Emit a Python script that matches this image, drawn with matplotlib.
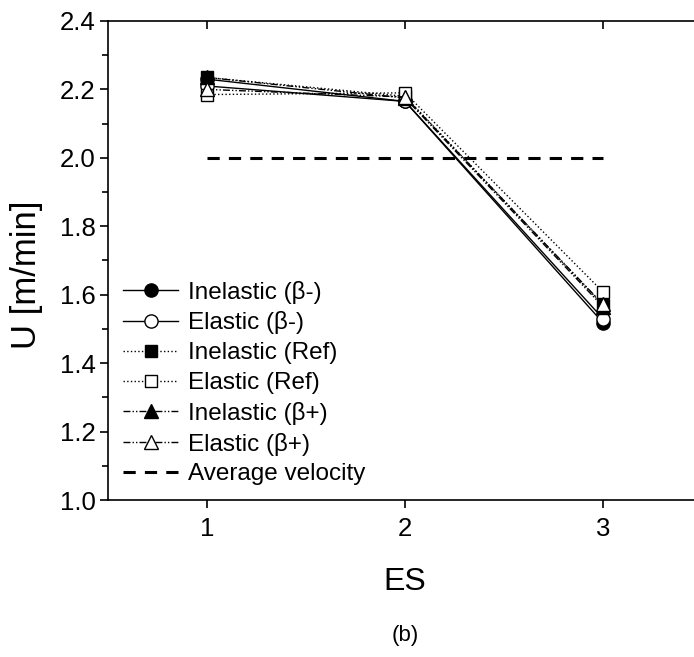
import numpy as np
import matplotlib.pyplot as plt
from matplotlib.ticker import MultipleLocator

plt.rcParams['font.family'] = ['Liberation Sans', 'DejaVu Sans']

# data
es = [1, 2, 3]
inel_bm = [2.230, 2.165, 1.518]
el_bm = [2.210, 2.165, 1.530]
inel_ref = [2.235, 2.180, 1.570]
el_ref = [2.185, 2.190, 1.608]
inel_bp = [2.235, 2.175, 1.565]
el_bp = [2.200, 2.178, 1.572]
avg_x = [1, 3]
avg_u = [2.0, 2.0]

fig = plt.figure(figsize=(6.94, 6.57), dpi=100)
ax = fig.add_axes([108 / 694, 157 / 657, 594 / 694, 479 / 657])

ms = 9.5
dd = (0, (5, 1.5, 1, 1.5, 1, 1.5))
ax.plot(es, inel_bm, '-', color='black', lw=1, marker='o', ms=ms, mfc='black', label='Inelastic (β-)')
ax.plot(es, el_bm, '-', color='black', lw=1, marker='o', ms=ms, mfc='white', label='Elastic (β-)')
ax.plot(es, inel_ref, ':', color='black', lw=1, marker='s', ms=ms - 1.5, mfc='black', label='Inelastic (Ref)')
ax.plot(es, el_ref, ':', color='black', lw=1, marker='s', ms=ms - 1.5, mfc='white', label='Elastic (Ref)')
ax.plot(es, inel_bp, color='black', lw=1, ls=dd, marker='^', ms=ms, mfc='black', label='Inelastic (β+)')
ax.plot(es, el_bp, color='black', lw=1, ls=dd, marker='^', ms=ms, mfc='white', label='Elastic (β+)')
ax.plot(avg_x, avg_u, color='black', lw=2.2, ls=(0, (4, 3)), label='Average velocity')

ax.set_xlim(0.5, 3.5)
ax.set_ylim(1.0, 2.4)
ax.set_xticks([1, 2, 3])
ax.yaxis.set_major_locator(MultipleLocator(0.2))
ax.yaxis.set_minor_locator(MultipleLocator(0.1))
ax.yaxis.set_major_formatter(plt.FuncFormatter(lambda v, p: f'{v:.1f}'))

ax.spines['right'].set_visible(False)
for s in ['left', 'bottom', 'top']:
    ax.spines[s].set_linewidth(1.2)

ax.tick_params(axis='both', which='major', labelsize=18.5, length=6, width=1.2, direction='out')
ax.tick_params(axis='y', which='major', pad=3)
ax.tick_params(axis='x', which='major', pad=6)
ax.tick_params(axis='y', which='minor', length=4, width=1.2, direction='out')
ax.tick_params(axis='x', top=True, which='major')
# top ticks point inward
for t in ax.xaxis.get_major_ticks():
    t.tick2line.set_marker(3)

ax.set_xlabel('ES', fontsize=23, labelpad=19)
ax.set_ylabel('U [m/min]', fontsize=25)
ax.yaxis.set_label_coords(-0.11, 0.47)

ax.legend(loc='lower left', frameon=False, fontsize=17.5,
          handlelength=2.3, handletextpad=0.4, labelspacing=0.32,
          borderpad=0.2, borderaxespad=0.4)

fig.text(405 / 694, 1 - 635 / 657, '(b)', fontsize=16, ha='center', va='center')

fig.savefig('out.png', dpi=100)
